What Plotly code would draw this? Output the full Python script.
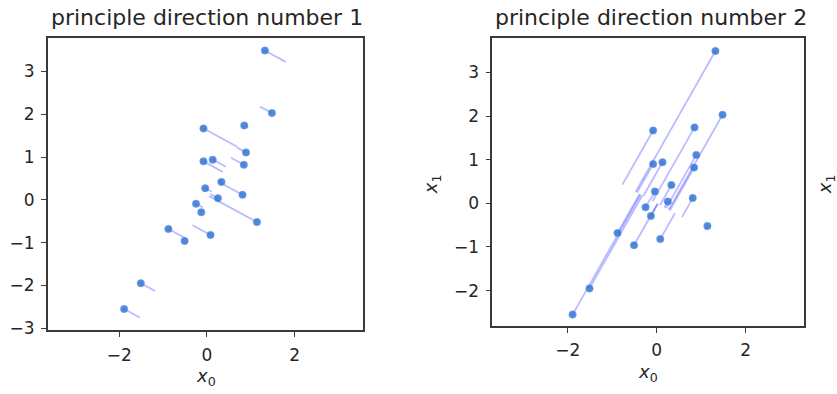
import plotly.graph_objects as go

# data points (x0, x1)
x0 = [1.32, 1.48, -0.08, 0.85, 0.89, -0.08, 0.13, 0.84, 0.33, -0.04,
      0.25, 0.81, -0.25, -0.13, 1.14, -0.88, -0.51, 0.08, -1.51, -1.89]
x1 = [3.49, 2.03, 1.67, 1.74, 1.11, 0.90, 0.94, 0.82, 0.42, 0.27,
      0.04, 0.12, -0.09, -0.29, -0.52, -0.68, -0.96, -0.82, -1.95, -2.55]

# principal directions (unit vectors)
pc1 = [0.486, 0.874]
pc2 = [0.874, -0.486]

titles = ["principle direction number 1", "principle direction number 2"]
xticks = [-2, 0, 2]
yticks_left = [-3, -2, -1, 0, 1, 2, 3]
yticks_right = [-2, -1, 0, 1, 2, 3]


def fmt(v):
    return ("\u2212" + str(abs(v))) if v < 0 else str(v)


fig = go.Figure()
line_col = "rgba(30,30,255,0.3)"
pt_col = "rgba(50,115,210,0.85)"

for k, d in enumerate([pc1, pc2]):
    xa = "x" if k == 0 else "x2"
    ya = "y" if k == 0 else "y2"
    for px, py in zip(x0, x1):
        s = px * d[0] + py * d[1]
        fig.add_trace(go.Scatter(x=[px, s * d[0]], y=[py, s * d[1]], mode="lines",
                                 line=dict(color=line_col, width=1.8),
                                 xaxis=xa, yaxis=ya, showlegend=False, hoverinfo="skip"))
    fig.add_trace(go.Scatter(x=x0, y=x1, mode="markers",
                             marker=dict(color=pt_col, size=7.5,
                                         line=dict(color="rgba(120,170,230,0.6)", width=0.8)),
                             xaxis=xa, yaxis=ya, showlegend=False))

font = "DejaVu Sans"
tick_font = dict(family=font, size=17, color="#262626")
axcommon = dict(showgrid=False, zeroline=False, showline=True, mirror=True,
                linecolor="#3a3a3a", linewidth=1.6, ticks="outside", ticklen=5,
                tickwidth=1.4, tickcolor="#3a3a3a", tickfont=tick_font,
                ticklabelstandoff=3)

W, H = 837, 394
fig.update_layout(
    width=W, height=H, margin=dict(l=0, r=0, t=0, b=0),
    paper_bgcolor="white", plot_bgcolor="white",
    xaxis=dict(domain=[47.7 / W, 363.3 / W], range=[-3.633, 3.565], anchor="y",
               tickvals=xticks, ticktext=[fmt(v) for v in xticks], **axcommon),
    yaxis=dict(domain=[1 - 337.3 / H, 1 - 38.3 / H], range=[-3.052, 3.795], anchor="x",
               tickvals=yticks_left, ticktext=[fmt(v) for v in yticks_left], **axcommon),
    xaxis2=dict(domain=[492.3 / W, 803.5 / W], range=[-3.694, 3.299], anchor="y2",
                tickvals=xticks, ticktext=[fmt(v) for v in xticks], **axcommon),
    yaxis2=dict(domain=[1 - 332.7 / H, 1 - 38.3 / H], range=[-2.81, 3.80], anchor="x2",
                tickvals=yticks_right, ticktext=[fmt(v) for v in yticks_right], **axcommon),
)

ann = []
for t, cx in zip(titles, [207, 651]):
    ann.append(dict(text=t, x=cx / W, y=1 - 18 / H, xref="paper", yref="paper",
                    xanchor="center", yanchor="middle", showarrow=False,
                    font=dict(family=font, size=22, color="#262626")))
lab_font = dict(family=font, size=18, color="#262626")
for cx, cy in [(205.5, 385), (648, 381)]:
    ann.append(dict(text="<i>x</i><sub>0</sub>", x=cx / W, y=1 - cy / H, xref="paper",
                    yref="paper", xanchor="center", yanchor="middle", showarrow=False,
                    font=lab_font))
for cx in [432, 826]:
    ann.append(dict(text="<i>x</i><sub>1</sub>", x=cx / W, y=1 - 188 / H, xref="paper",
                    yref="paper", xanchor="center", yanchor="middle", showarrow=False,
                    textangle=-90, font=lab_font))
fig.update_layout(annotations=ann)

fig.write_html("out.html")
